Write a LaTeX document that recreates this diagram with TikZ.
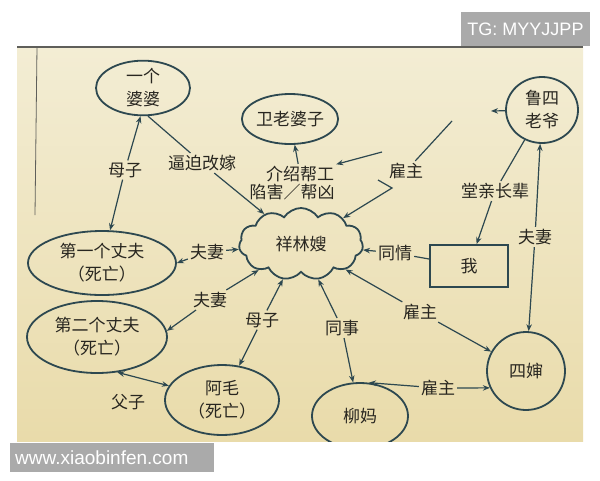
\documentclass[tikz,border=0pt]{standalone}
\usepackage{fontspec}
\setmainfont{Liberation Sans}
\newfontfamily\cjk{Noto Sans CJK SC}
\usetikzlibrary{shapes.geometric,shapes.symbols,arrows.meta}
\definecolor{ink}{RGB}{45,72,80}
\definecolor{txt}{RGB}{40,38,32}
\definecolor{papertop}{RGB}{243,237,212}
\definecolor{paperbot}{RGB}{233,219,170}
\definecolor{wm}{RGB}{170,170,170}
\definecolor{edge}{RGB}{95,95,90}
\begin{document}
\begin{tikzpicture}[x=1pt,y=-1pt,
  ent/.style={draw=ink,line width=1.8pt,ellipse,inner sep=0pt,text=txt,
    font=\cjk\fontsize{17}{23}\selectfont,align=center},
  lab/.style={text=txt,font=\cjk\fontsize{17}{19}\selectfont,inner sep=2pt},
  con/.style={draw=ink,line width=1.2pt},
  arr/.style={con,-{Stealth[length=7pt,width=5.5pt]}},
  darr/.style={con,{Stealth[length=7pt,width=5.5pt]}-{Stealth[length=7pt,width=5.5pt]}},
  wmark/.style={fill=wm,text=white,font=\fontsize{18}{20}\selectfont,inner sep=0pt}
]
\useasboundingbox (0,0) rectangle (600,480);
\fill[white] (0,0) rectangle (600,480);
\shade[top color=papertop,bottom color=paperbot] (17,47) rectangle (583,441);
\draw[edge,line width=1.2pt] (17,47) -- (583,47);
\draw[edge,line width=0.8pt] (37,47) -- (35,215);

\begin{scope}
\clip (17,47) rectangle (583,441);
% entities
\node[ent,minimum width=94pt,minimum height=52pt] (pp) at (143,88) {一个\\婆婆};
\node[ent,minimum width=86pt,minimum height=50pt] (wei) at (290,119) {卫老婆子};
\node[ent,minimum width=72pt,minimum height=66pt] (lu) at (542,110) {鲁四\\老爷};
\node[draw=ink,line width=1.8pt,rectangle,minimum width=78pt,minimum height=42pt,
  text=txt,font=\cjk\fontsize{17}{19}\selectfont] (wo) at (469,266) {我};
\node[ent,minimum width=78pt,minimum height=78pt] (sishen) at (526,371) {四婶};
\node[ent,minimum width=96pt,minimum height=66pt] (liu) at (360,416) {柳妈};
\node[ent,minimum width=114pt,minimum height=70pt] (amao) at (222,400) {阿毛\\（死亡）};
\node[ent,minimum width=148pt,minimum height=64pt] (h1) at (102,263) {第一个丈夫\\（死亡）};
\node[ent,minimum width=140pt,minimum height=72pt] (h2) at (97,337) {第二个丈夫\\（死亡）};
\node[draw=ink,line width=1.8pt,cloud,cloud puffs=11,cloud puff arc=115,aspect=1.7,
  minimum width=124pt,minimum height=72pt,inner sep=0pt,text=txt,
  font=\cjk\fontsize{17}{19}\selectfont] (xl) at (301,244) {祥林嫂};

% labels
\node[lab] (Lmz1) at (125,170) {母子};
\node[lab] (Lbp) at (202,163) {逼迫改嫁};
\node[lab] (Lw1) at (300,174) {介绍帮工};
\node[lab] (Lw2) at (292,192) {陷害／帮凶};
\node[lab] (Lgz1) at (406,171) {雇主};
\node[lab] (Ltq) at (495,191) {堂亲长辈};
\node[lab] (Lfq3) at (535,237) {夫妻};
\node[lab] (Ltqg) at (395,253) {同情};
\node[lab] (Lgz2) at (420,312) {雇主};
\node[lab] (Lgz3) at (438,388) {雇主};
\node[lab] (Lts) at (342,328) {同事};
\node[lab] (Lmz2) at (262,320) {母子};
\node[lab] (Lfq1) at (207,252) {夫妻};
\node[lab] (Lfq2) at (210,300) {夫妻};
\node[lab] (Lfz) at (128,402) {父子};

\coordinate (c1) at (382,152);
\coordinate (c2) at (452,121);
\coordinate (hk) at (378,180);
\coordinate (hj) at (392,188);
\coordinate (c3) at (491,111);

% connectors
\draw[arr] (Lmz1) -- (pp.-95);
\draw[arr] (Lmz1) -- (h1);
\draw[con] (Lbp) -- (pp.-80);
\draw[arr] (Lbp) -- (xl);
\draw[arr] (Lw1) -- (wei);
\draw[arr] (c1) -- (Lw1);
\draw[con] (c2) -- (Lgz1);
\draw[arr] (hk) -- (hj) -- (xl);
\draw[arr] (lu) -- (c3);
\draw[con] (Ltq) -- (lu);
\draw[arr] (Ltq) -- (wo);
\draw[arr] (Lfq3) -- (lu);
\draw[arr] (Lfq3) -- (sishen);
\draw[con] (wo) -- (Ltqg);
\draw[arr] (Ltqg) -- (xl);
\draw[arr] (Lgz2) -- (sishen);
\draw[arr] (Lgz2) -- (xl);
\draw[arr] (Lgz3) -- (sishen.205);
\draw[arr] (Lgz3) -- (liu.75);
\draw[arr] (Lts) -- (xl);
\draw[arr] (Lts) -- (liu);
\draw[arr] (Lmz2) -- (xl);
\draw[arr] (Lmz2) -- (amao);
\draw[arr] (Lfq1) -- (xl);
\draw[arr] (Lfq1) -- (h1.east);
\draw[arr] (Lfq2) -- (xl);
\draw[arr] (Lfq2) -- (h2.5);
\draw[darr] (h2.-60) -- (amao.165);
\end{scope}

% watermarks
\node[wmark,minimum width=129pt,minimum height=34pt] (tg) at (525.5,29) {TG: MYYJJPP};
\node[wmark,minimum width=204pt,minimum height=29pt] (wwbox) at (112,457.5) {};
\node[text=white,font=\fontsize{19}{21}\selectfont,inner sep=0pt,anchor=west] (ww) at (15,457.5) {www.xiaobinfen.com};
\end{tikzpicture}
\end{document}
